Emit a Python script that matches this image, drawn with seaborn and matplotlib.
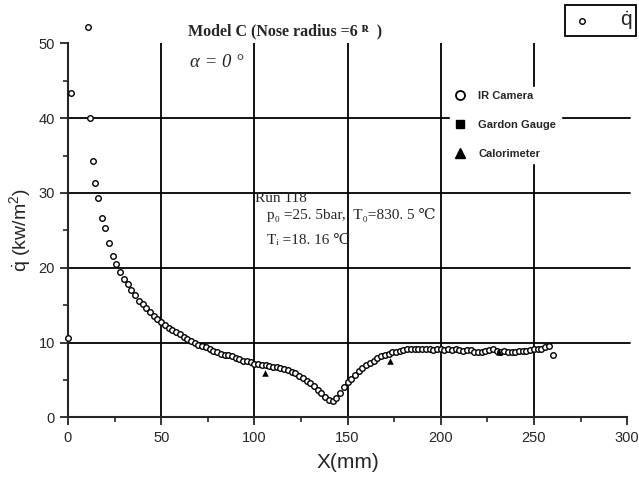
import numpy as np
import pandas as pd
import matplotlib
matplotlib.use("Agg")
import matplotlib.pyplot as plt
import seaborn as sns
from matplotlib.lines import Line2D
from matplotlib.ticker import MultipleLocator

# IR camera heat flux along the model
x_ir = [0, 1.4, 10.6, 11.8, 13.2, 14.5, 16.3,
        18, 20, 22, 24, 26, 28, 30, 32, 34, 36, 38, 40, 42, 44, 46, 48, 50,
        52, 54, 56, 58, 60, 62, 64, 66, 68, 70, 72, 74, 76, 78, 80, 82, 84,
        86, 88, 90, 92, 94, 96, 98, 100, 102, 104, 106, 108, 110, 112, 114,
        116, 118, 120, 122, 124, 126, 128, 130, 132, 134, 136, 138, 140, 142,
        144, 146, 148, 150, 152, 154, 156, 158, 160, 162, 164, 166, 168, 170,
        172, 174, 176, 178, 180, 182, 184, 186, 188, 190, 192, 194, 196, 198,
        200, 202, 204, 206, 208, 210, 212, 214, 216, 218, 220, 222, 224, 226,
        228, 230, 232, 234, 236, 238, 240, 242, 244, 246, 248, 250, 252, 254,
        256, 258, 260]
q_ir = [10.6, 43.4, 52.2, 40.0, 34.3, 31.4, 29.3,
        26.7, 25.3, 23.3, 21.6, 20.5, 19.5, 18.5, 17.8, 17.0, 16.3, 15.6, 15.1,
        14.6, 14.1, 13.6, 13.1, 12.7, 12.4, 12.0, 11.7, 11.4, 11.1, 10.8, 10.5,
        10.2, 9.9, 9.7, 9.5, 9.4, 9.2, 8.9, 8.7, 8.5, 8.4, 8.3, 8.2, 8.0, 7.8,
        7.6, 7.5, 7.4, 7.2, 7.1, 7.0, 7.0, 6.9, 6.8, 6.7, 6.6, 6.5, 6.3, 6.1,
        5.9, 5.6, 5.3, 4.9, 4.6, 4.2, 3.7, 3.2, 2.7, 2.3, 2.2, 2.6, 3.2, 4.0,
        4.7, 5.1, 5.7, 6.2, 6.6, 7.0, 7.3, 7.6, 7.9, 8.2, 8.4, 8.5, 8.7, 8.8,
        8.9, 9.0, 9.1, 9.1, 9.2, 9.1, 9.1, 9.2, 9.1, 9.0, 9.1, 9.1, 9.0, 9.1,
        9.0, 9.1, 9.0, 8.9, 9.0, 9.0, 8.8, 8.7, 8.8, 8.9, 9.0, 9.1, 8.9, 8.8,
        8.9, 8.8, 8.7, 8.8, 8.9, 8.9, 8.9, 9.0, 9.1, 9.1, 9.2, 9.4, 9.5, 8.4]

# calorimeter readings
x_cal = [105.7, 172.8, 231.0]
q_cal = [6.0, 7.6, 8.8]

df_ir = pd.DataFrame({"x": x_ir, "q": q_ir})
df_cal = pd.DataFrame({"x": x_cal, "q": q_cal})

sns.set_style("ticks")
plt.rcParams["font.family"] = ["Liberation Sans", "DejaVu Sans"]
plt.rcParams["mathtext.fontset"] = "custom"
plt.rcParams["mathtext.rm"] = "Liberation Sans"
plt.rcParams["mathtext.it"] = "Liberation Sans:italic"

fig = plt.figure(figsize=(6.39, 4.82), dpi=100)
ax = fig.add_axes([0.1064, 0.134, 0.875, 0.776])

# grid lines (no line at 0/50 or 300)
for yv in [10, 20, 30, 40]:
    ax.plot([0, 301.5], [yv, yv], color="black", lw=1.3, clip_on=False, zorder=1)
for xv in [50, 100, 150, 200, 250]:
    ax.axvline(xv, color="black", lw=1.3, zorder=1)

sns.scatterplot(data=df_ir, x="x", y="q", ax=ax, marker="o", s=16,
                facecolor="white", edgecolor="black", linewidth=1.0,
                clip_on=False, zorder=3, label="$\\dot{\\rm q}$")
sns.scatterplot(data=df_cal, x="x", y="q", ax=ax, marker="^", s=22,
                color="black", linewidth=0, zorder=4)

ax.set_xlim(0, 300)
ax.set_ylim(0, 50)
ax.xaxis.set_major_locator(MultipleLocator(50))
ax.xaxis.set_minor_locator(MultipleLocator(25))
ax.yaxis.set_major_locator(MultipleLocator(10))
ax.yaxis.set_minor_locator(MultipleLocator(5))
ax.tick_params(which="major", length=6, width=1.3, labelsize=10.5, direction="out")
ax.tick_params(which="minor", length=3.5, width=1.2, direction="out")
sns.despine(ax=ax)
for sp in ["left", "bottom"]:
    ax.spines[sp].set_linewidth(1.5)

ax.set_xlabel("X(mm)", fontsize=15, labelpad=6)
ax.set_ylabel("$\\dot{\\rm q}$ (kw/m$^2$)", fontsize=14, labelpad=4)

# top-right legend box
leg_top = ax.legend(loc="upper right", bbox_to_anchor=(636 / 639, 1 - 5 / 482),
                    bbox_transform=fig.transFigure, fontsize=15, frameon=True,
                    fancybox=False, edgecolor="black", framealpha=1,
                    handletextpad=1.2, borderpad=0.2, markerscale=1.0,
                    handlelength=1.2, borderaxespad=0)
leg_top.get_frame().set_linewidth(1.3)
ax.add_artist(leg_top)

# instruments legend inside plot
handles = [
    Line2D([], [], ls="none", marker="o", ms=6.5, mfc="white", mec="black", mew=1.3),
    Line2D([], [], ls="none", marker="s", ms=6, color="black"),
    Line2D([], [], ls="none", marker="^", ms=6.5, color="black"),
]
leg_in = ax.legend(handles, ["IR Camera", "Gardon Gauge", "Calorimeter"],
                   loc="center left", bbox_to_anchor=(0.684, 0.782),
                   prop={"weight": "bold", "size": 8}, frameon=True,
                   facecolor="white", edgecolor="white", framealpha=1,
                   labelspacing=1.7, handlelength=1.0, handletextpad=1.1,
                   borderpad=0.4, borderaxespad=0)
leg_in.set_zorder(5)

serif = ["Liberation Serif", "DejaVu Serif"]
ax.text(64.4, 51.6, "Model C (Nose radius =6 ᴿ  )", family=serif, fontsize=11.5,
        weight="bold", va="center", ha="left", clip_on=False)
ax.text(65.5, 47.4, "α = 0 °", family=serif, fontsize=13.5, style="italic",
        va="center", ha="left")
ax.text(100.4, 29.2, "Run 118", family=serif, fontsize=11, va="center", ha="left")
ax.text(106.8, 27.0, "p₀ =25. 5bar,  T₀=830. 5 ℃", family=serif, fontsize=11,
        va="center", ha="left")
ax.text(106.8, 23.6, "Tᵢ =18. 16 ℃", family=serif, fontsize=11,
        va="center", ha="left")

fig.savefig("out.png", dpi=100)
